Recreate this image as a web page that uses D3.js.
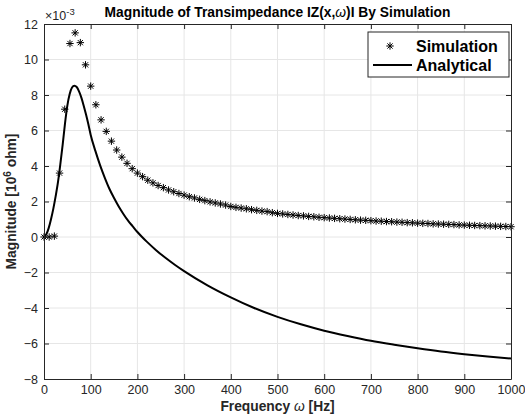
<!DOCTYPE html>
<html>
<head>
<meta charset="utf-8">
<script src="https://cdn.jsdelivr.net/npm/d3@7"></script>
<style>
  body { margin: 0; background: #fff; }
  text { font-family: "Liberation Sans", Arial, Helvetica, sans-serif; }
</style>
</head>
<body>
<div class="chart"></div>
<script>
// simulation samples (x1e-3)
var simFreq = [0, 11.1, 22.2, 33.3, 44.4, 55.6, 66.7, 77.8, 88.9, 100,
  111.1, 122.2, 133.3, 144.4, 155.6, 166.7, 177.8, 188.9, 200,
  211.1, 222.2, 233.3, 244.4, 255.6, 266.7, 277.8, 288.9, 300,
  311.1, 322.2, 333.3, 344.4, 355.6, 366.7, 377.8, 388.9, 400,
  411.1, 422.2, 433.3, 444.4, 455.6, 466.7, 477.8, 488.9, 500,
  511.1, 522.2, 533.3, 544.4, 555.6, 566.7, 577.8, 588.9, 600,
  611.1, 622.2, 633.3, 644.4, 655.6, 666.7, 677.8, 688.9, 700,
  711.1, 722.2, 733.3, 744.4, 755.6, 766.7, 777.8, 788.9, 800,
  811.1, 822.2, 833.3, 844.4, 855.6, 866.7, 877.8, 888.9, 900,
  911.1, 922.2, 933.3, 944.4, 955.6, 966.7, 977.8, 988.9, 1000];
var simMag = [0, 0, 0.05, 3.6, 7.2, 10.9, 11.5, 10.95, 9.7, 8.5,
  7.45, 6.6, 5.95, 5.4, 4.9, 4.5, 4.15, 3.85, 3.6,
  3.4, 3.2, 3.05, 2.9, 2.78, 2.65, 2.55, 2.45, 2.36,
  2.27, 2.2, 2.12, 2.05, 1.98, 1.92, 1.86, 1.8, 1.72,
  1.67, 1.63, 1.59, 1.54, 1.5, 1.46, 1.43, 1.37, 1.33,
  1.3, 1.27, 1.24, 1.21, 1.19, 1.16, 1.14, 1.11, 1.09,
  1.07, 1.05, 1.03, 1.01, 0.99, 0.97, 0.95, 0.94, 0.92,
  0.9, 0.89, 0.87, 0.86, 0.84, 0.83, 0.81, 0.8, 0.78,
  0.77, 0.76, 0.74, 0.73, 0.72, 0.71, 0.7, 0.68, 0.67,
  0.66, 0.65, 0.64, 0.63, 0.62, 0.61, 0.6, 0.59, 0.58];

// analytical curve
var anaFreq = [0, 5, 10, 15, 20, 25, 30, 35, 40, 45, 50, 55, 60, 65, 70, 75, 80, 85, 90, 95, 100,
  110, 120, 130, 140, 150, 160, 170, 180, 190, 200, 210, 220, 240, 260, 280, 300,
  350, 400, 450, 500, 550, 600, 650, 700, 750, 800, 850, 900, 950, 1000];
var anaMag = [0, 0.15, 0.5, 1.0, 1.6, 2.3, 3.1, 4.1, 5.2, 6.4, 7.4, 8.05, 8.42, 8.52, 8.45, 8.2, 7.85, 7.4, 6.9, 6.35, 5.75,
  4.85, 4.05, 3.35, 2.72, 2.2, 1.72, 1.3, 0.92, 0.6, 0.28, 0.0, -0.26, -0.74, -1.17, -1.56, -1.92,
  -2.72, -3.4, -4.0, -4.5, -4.92, -5.28, -5.58, -5.85, -6.07, -6.27, -6.45, -6.6, -6.73, -6.85];

var xTicks = [0, 100, 200, 300, 400, 500, 600, 700, 800, 900, 1000];
var yTicks = [-8, -6, -4, -2, 0, 2, 4, 6, 8, 10, 12];

var W = 525, H = 417;
var margin = { top: 24, right: 14, bottom: 38, left: 44 };
var axColor = "#262626";

var svg = d3.select(".chart").append("svg")
  .attr("width", W).attr("height", H);

var x = d3.scaleLinear().domain([0, 1000]).range([margin.left, W - margin.right]);
var y = d3.scaleLinear().domain([-8, 12]).range([H - margin.bottom, margin.top]);

var x0 = x.range()[0], x1 = x.range()[1], y0 = y.range()[0], y1 = y.range()[1];

// grid
svg.append("g").selectAll("line.gx").data(xTicks.slice(1, -1)).enter().append("line")
  .attr("x1", d => x(d)).attr("x2", d => x(d)).attr("y1", y1).attr("y2", y0)
  .attr("stroke", "#e6e6e6").attr("stroke-width", 1);
svg.append("g").selectAll("line.gy").data(yTicks.slice(1, -1)).enter().append("line")
  .attr("x1", x0).attr("x2", x1).attr("y1", d => y(d)).attr("y2", d => y(d))
  .attr("stroke", "#e6e6e6").attr("stroke-width", 1);

// analytical line
var line = d3.line().x((d, i) => x(anaFreq[i])).y(d => y(d)).curve(d3.curveMonotoneX);
svg.append("path").datum(anaMag).attr("d", line)
  .attr("fill", "none").attr("stroke", "#000").attr("stroke-width", 2);

// asterisk marker
function star(cx, cy, r) {
  var a = r * 0.7071;
  return "M" + (cx - r) + "," + cy + "H" + (cx + r) +
    "M" + cx + "," + (cy - r) + "V" + (cy + r) +
    "M" + (cx - a) + "," + (cy - a) + "L" + (cx + a) + "," + (cy + a) +
    "M" + (cx - a) + "," + (cy + a) + "L" + (cx + a) + "," + (cy - a);
}
svg.append("g").selectAll("path").data(simMag).enter().append("path")
  .attr("d", (d, i) => star(x(simFreq[i]), y(d), 3.7))
  .attr("stroke", "#000").attr("stroke-width", 1).attr("fill", "none");

// axes box with inward ticks
var fmt = d3.format("d");
var xAxB = d3.axisBottom(x).tickValues(xTicks).tickFormat(fmt).tickSizeInner(-5).tickSizeOuter(0).tickPadding(6);
var xAxT = d3.axisTop(x).tickValues(xTicks).tickSizeInner(-5).tickSizeOuter(0).tickFormat("");
var yAxL = d3.axisLeft(y).tickValues(yTicks).tickFormat(fmt).tickSizeInner(-5).tickSizeOuter(0).tickPadding(6);
var yAxR = d3.axisRight(y).tickValues(yTicks).tickSizeInner(-5).tickSizeOuter(0).tickFormat("");

function styleAxis(g) {
  g.select(".domain").attr("stroke", axColor);
  g.selectAll(".tick line").attr("stroke", axColor);
  g.selectAll(".tick text").attr("fill", axColor)
    .style("font-family", "'Liberation Sans', Arial, sans-serif").style("font-size", "12.5px");
}
svg.append("g").attr("transform", "translate(0," + y0 + ")").call(xAxB).call(styleAxis);
svg.append("g").attr("transform", "translate(0," + y1 + ")").call(xAxT).call(styleAxis);
svg.append("g").attr("transform", "translate(" + x0 + ",0)").call(yAxL).call(styleAxis);
svg.append("g").attr("transform", "translate(" + x1 + ",0)").call(yAxR).call(styleAxis);

// exponent label
var ex = svg.append("text").attr("x", x0 + 1).attr("y", y1 - 4)
  .attr("fill", axColor).style("font-size", "12.5px");
ex.append("tspan").text("\u00d710");
ex.append("tspan").attr("dy", -5).style("font-size", "9.5px").text("-3");

// title
var t = svg.append("text").attr("x", (x0 + x1) / 2).attr("y", 17)
  .attr("text-anchor", "middle").style("font-size", "13.8px").style("font-weight", "bold").attr("fill", "#000");
t.append("tspan").text("Magnitude of Transimpedance IZ(x,");
t.append("tspan").style("font-weight", "normal").style("font-style", "italic").text("\u03c9");
t.append("tspan").text(")I By Simulation");

// x label
var xl = svg.append("text").attr("x", (x0 + x1) / 2).attr("y", H - 6)
  .attr("text-anchor", "middle").style("font-size", "13.8px").style("font-weight", "bold").attr("fill", axColor);
xl.append("tspan").text("Frequency ");
xl.append("tspan").style("font-weight", "normal").style("font-style", "italic").text("\u03c9");
xl.append("tspan").text(" [Hz]");

// y label
var yl = svg.append("text")
  .attr("transform", "translate(16," + ((y0 + y1) / 2) + ") rotate(-90)")
  .attr("text-anchor", "middle").style("font-size", "13.8px").style("font-weight", "bold").attr("fill", axColor);
yl.append("tspan").text("Magnitude [10");
yl.append("tspan").attr("dy", -5).style("font-size", "10px").text("6");
yl.append("tspan").attr("dy", 5).text(" ohm]");

// legend
var lg = svg.append("g");
var lx = 368, ly = 32, lw = 141, lh = 45;
lg.append("rect").attr("x", lx).attr("y", ly).attr("width", lw).attr("height", lh)
  .attr("fill", "#fff").attr("stroke", axColor).attr("stroke-width", 1);
lg.append("path").attr("d", star(lx + 22, ly + 14, 3.7)).attr("stroke", "#000").attr("fill", "none");
lg.append("line").attr("x1", lx + 5).attr("x2", lx + 44).attr("y1", ly + 33).attr("y2", ly + 33)
  .attr("stroke", "#000").attr("stroke-width", 2);
lg.append("text").attr("x", lx + 48).attr("y", ly + 20).text("Simulation")
  .style("font-size", "16px").style("font-weight", "bold");
lg.append("text").attr("x", lx + 48).attr("y", ly + 39).text("Analytical")
  .style("font-size", "16px").style("font-weight", "bold");
</script>
</body>
</html>
